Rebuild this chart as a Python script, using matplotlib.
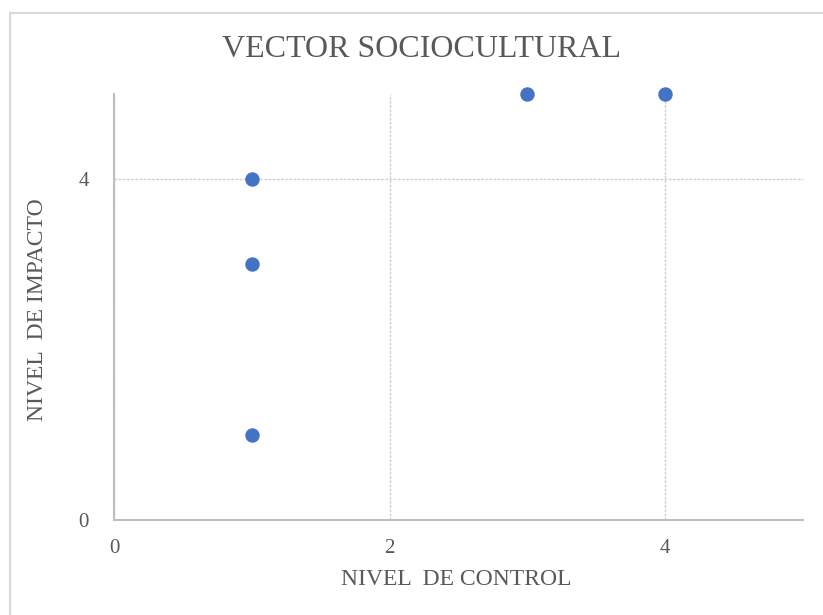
import matplotlib.pyplot as plt
from matplotlib.lines import Line2D

# control vs impact scores, sociocultural vector
control = [1, 1, 1, 3, 4]
impacto = [4, 3, 1, 5, 5]
xticks = [0, 2, 4]
yticks = [0, 4]

plt.rcParams['font.family'] = ['Liberation Serif', 'DejaVu Serif']
txt = '#595959'

fig = plt.figure(figsize=(8.23, 6.15), dpi=100)
ax = fig.add_axes([0.1385, 0.1545, 0.8372, 0.6927])

ax.scatter(control, impacto, s=88, color='#4472C4', zorder=3, clip_on=False)

ax.set_xlim(0, 5)
ax.set_ylim(0, 5)
ax.set_xticks(xticks)
ax.set_yticks(yticks)
ax.tick_params(axis='x', length=0, labelsize=15, colors=txt, pad=14)
ax.tick_params(axis='y', length=0, labelsize=15, colors=txt, pad=18)
ax.grid(True, color='#d0d0d0', linewidth=1, linestyle=(0, (2, 1)))
ax.set_axisbelow(True)

for side in ['top', 'right']:
    ax.spines[side].set_visible(False)
for side in ['left', 'bottom']:
    ax.spines[side].set_color('#bfbfbf')
    ax.spines[side].set_linewidth(1.5)

fig.text(0.512, 0.92, 'VECTOR SOCIOCULTURAL', ha='center', va='center',
         fontsize=23, color=txt)
fig.text(0.554, 0.057, 'NIVEL  DE CONTROL', ha='center', va='center',
         fontsize=17, color=txt)
fig.text(0.046, 0.496, 'NIVEL  DE IMPACTO', ha='center', va='center',
         fontsize=17, color=txt, rotation=90)

# chart frame
fig.add_artist(Line2D([0.012, 0.012], [0, 0.979], color='#d9d9d9', lw=1.5))
fig.add_artist(Line2D([0.012, 1], [0.979, 0.979], color='#d9d9d9', lw=1.5))

fig.savefig('out.png', dpi=100)
